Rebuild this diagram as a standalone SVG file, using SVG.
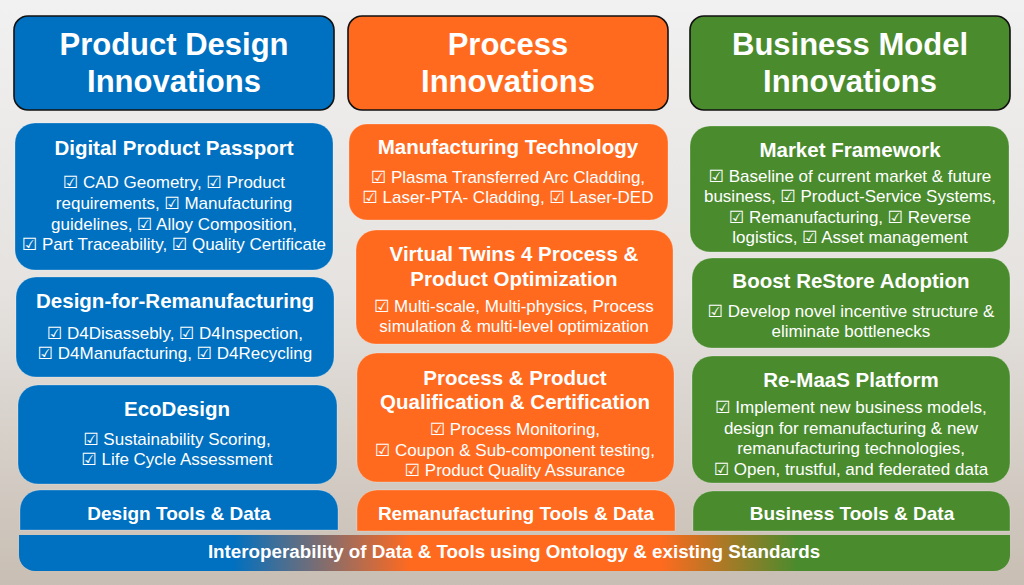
<svg xmlns="http://www.w3.org/2000/svg" width="1024" height="585" viewBox="0 0 1024 585">
<defs>
<linearGradient id="bg" x1="0" y1="0" x2="0" y2="1">
<stop offset="0" stop-color="#f1f1f1"/>
<stop offset="0.5" stop-color="#e5e2df"/>
<stop offset="1" stop-color="#c8beb3"/>
</linearGradient>
<linearGradient id="bar" gradientUnits="userSpaceOnUse" x1="19" y1="0" x2="1010" y2="0">
<stop offset="0" stop-color="#0070c0"/>
<stop offset="0.216" stop-color="#0070c0"/>
<stop offset="0.395" stop-color="#ff6a1f"/>
<stop offset="0.647" stop-color="#ff6a1f"/>
<stop offset="0.785" stop-color="#4a8b2e"/>
<stop offset="1" stop-color="#4a8b2e"/>
</linearGradient>
<style>
.blue{fill:#0070c0}
.orange{fill:#ff6a1f}
.green{fill:#4a8b2e}
.hdr{stroke:#111;stroke-width:1.6}
.box{stroke:#ffffff;stroke-opacity:0.25;stroke-width:1}
text{fill:#fff;font-family:"Liberation Sans","DejaVu Sans",Arial,sans-serif;text-anchor:middle}
.h{font-size:31px;font-weight:bold}
.t{font-size:20.5px;font-weight:bold}
.b{font-size:17px}
.f{font-size:19px;font-weight:bold}
.g{font-size:18.8px;font-weight:bold}
</style>
</defs>
<rect x="0" y="0" width="1024" height="585" fill="url(#bg)"/>

<g id="hdr-design">
<rect class="blue hdr" x="14" y="16" width="320" height="94" rx="14"/>
<text class="h" x="174" y="55">Product Design</text>
<text class="h" x="174" y="92">Innovations</text>
</g>
<g id="hdr-process">
<rect class="orange hdr" x="348" y="16" width="320" height="94" rx="14"/>
<text class="h" x="508" y="55">Process</text>
<text class="h" x="508" y="92">Innovations</text>
</g>
<g id="hdr-business">
<rect class="green hdr" x="690" y="16" width="320" height="94" rx="14"/>
<text class="h" x="850" y="55">Business Model</text>
<text class="h" x="850" y="92">Innovations</text>
</g>

<g id="dpp">
<rect class="blue box" x="15" y="123" width="318" height="147" rx="20"/>
<text class="t" x="174" y="155">Digital Product Passport</text>
<text class="b" x="174" y="188">☑ CAD Geometry, ☑ Product</text>
<text class="b" x="174" y="209">requirements, ☑ Manufacturing</text>
<text class="b" x="174" y="230">guidelines, ☑ Alloy Composition,</text>
<text class="b" x="174" y="250">☑ Part Traceability, ☑ Quality Certificate</text>
</g>
<g id="d4r">
<rect class="blue box" x="16" y="277" width="318" height="100" rx="20"/>
<text class="t" x="175" y="308">Design-for-Remanufacturing</text>
<text class="b" x="175" y="339">☑ D4Disassebly, ☑ D4Inspection,</text>
<text class="b" x="175" y="359">☑ D4Manufacturing, ☑ D4Recycling</text>
</g>
<g id="eco">
<rect class="blue box" x="18" y="385" width="319" height="99" rx="20"/>
<text class="t" x="177" y="416">EcoDesign</text>
<text class="b" x="177" y="445">☑ Sustainability Scoring,</text>
<text class="b" x="177" y="465">☑ Life Cycle Assessment</text>
</g>
<g id="design-tools">
<path class="blue box" d="M20,530 V510 A20,20 0 0 1 40,490 H318 A20,20 0 0 1 338,510 V530 Z"/>
<text class="f" x="179" y="520">Design Tools &amp; Data</text>
</g>

<g id="mfg">
<rect class="orange box" x="349" y="124" width="319" height="96" rx="18"/>
<text class="t" x="508" y="154">Manufacturing Technology</text>
<text class="b" x="508" y="183">☑ Plasma Transferred Arc Cladding,</text>
<text class="b" x="508" y="203">☑ Laser-PTA- Cladding, ☑ Laser-DED</text>
</g>
<g id="vt">
<rect class="orange box" x="356" y="230" width="317" height="114" rx="20"/>
<text class="t" x="514" y="261">Virtual Twins 4 Process &amp;</text>
<text class="t" x="514" y="286">Product Optimization</text>
<text class="b" x="514" y="312">☑ Multi-scale, Multi-physics, Process</text>
<text class="b" x="514" y="332">simulation &amp; multi-level optimization</text>
</g>
<g id="qual">
<rect class="orange box" x="357" y="353" width="317" height="129" rx="20"/>
<text class="t" x="515" y="385">Process &amp; Product</text>
<text class="t" x="515" y="409">Qualification &amp; Certification</text>
<text class="b" x="515" y="435">☑ Process Monitoring,</text>
<text class="b" x="515" y="456">☑ Coupon &amp; Sub-component testing,</text>
<text class="b" x="515" y="476">☑ Product Quality Assurance</text>
</g>
<g id="reman-tools">
<path class="orange box" d="M357,531 V510 A20,20 0 0 1 377,490 H655 A20,20 0 0 1 675,510 V531 Z"/>
<text class="f" x="516" y="520">Remanufacturing Tools &amp; Data</text>
</g>

<g id="market">
<rect class="green box" x="690" y="126" width="319" height="126" rx="20"/>
<text class="t" x="850" y="157">Market Framework</text>
<text class="b" x="850" y="182">☑ Baseline of current market &amp; future</text>
<text class="b" x="850" y="202">business, ☑ Product-Service Systems,</text>
<text class="b" x="850" y="223">☑ Remanufacturing, ☑ Reverse</text>
<text class="b" x="850" y="243">logistics, ☑ Asset management</text>
</g>
<g id="boost">
<rect class="green box" x="692" y="258" width="318" height="90" rx="20"/>
<text class="t" x="851" y="288">Boost ReStore Adoption</text>
<text class="b" x="851" y="317">☑ Develop novel incentive structure &amp;</text>
<text class="b" x="851" y="337">eliminate bottlenecks</text>
</g>
<g id="remaas">
<rect class="green box" x="692" y="356" width="318" height="127" rx="20"/>
<text class="t" x="851" y="387">Re-MaaS Platform</text>
<text class="b" x="851" y="413">☑ Implement new business models,</text>
<text class="b" x="851" y="434">design for remanufacturing &amp; new</text>
<text class="b" x="851" y="454">remanufacturing technologies,</text>
<text class="b" x="851" y="475">☑ Open, trustful, and federated data</text>
</g>
<g id="business-tools">
<path class="green box" d="M693,531 V511 A20,20 0 0 1 713,491 H990 A20,20 0 0 1 1010,511 V531 Z"/>
<text class="f" x="852" y="520">Business Tools &amp; Data</text>
</g>

<g id="interop">
<path d="M19,535 H1010 V555 A16,16 0 0 1 994,571 H35 A16,16 0 0 1 19,555 Z" fill="url(#bar)"/>
<text class="g" x="514" y="558">Interoperability of Data &amp; Tools using Ontology &amp; existing Standards</text>
</g>
<g id="connectors"></g>
</svg>
